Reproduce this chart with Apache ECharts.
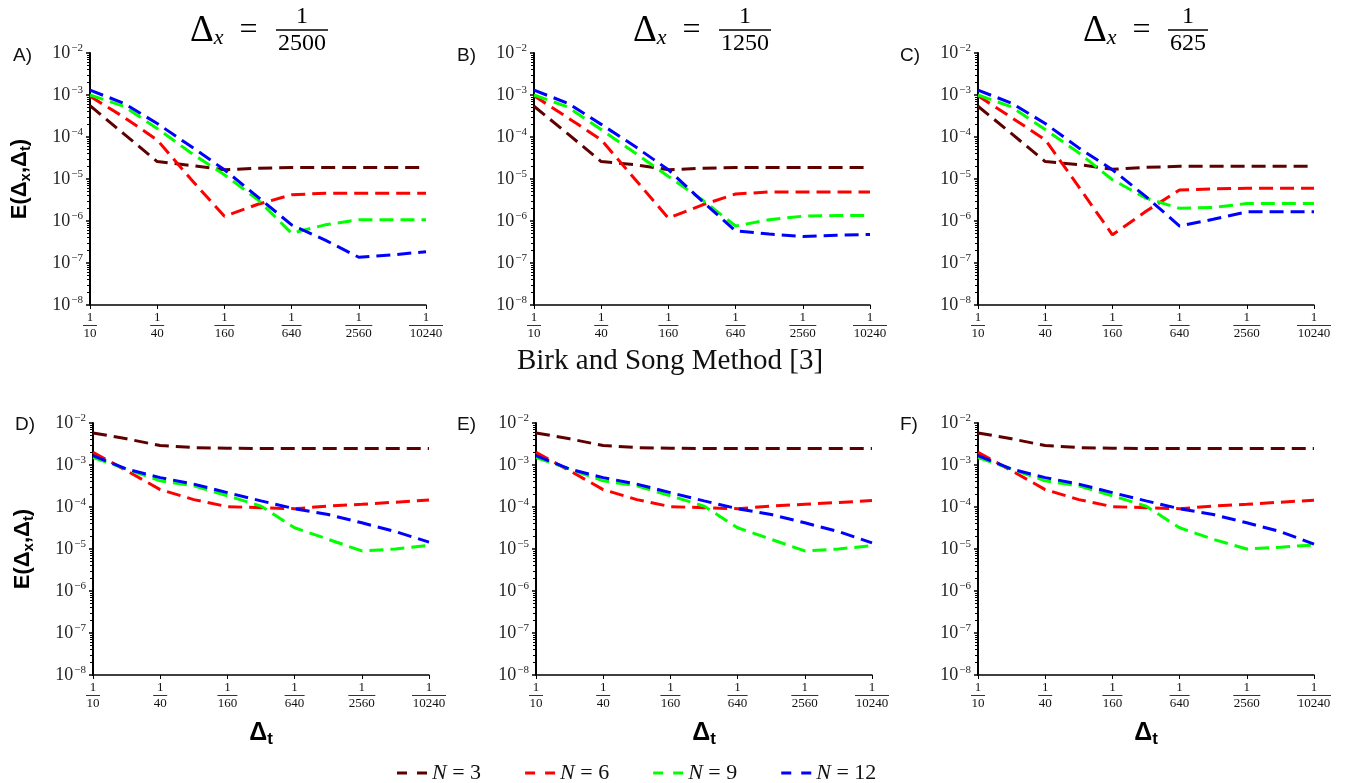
<!DOCTYPE html>
<html><head><meta charset="utf-8">
<script src="https://cdn.jsdelivr.net/npm/echarts@6/dist/echarts.min.js"></script>
<style>html,body{margin:0;padding:0;background:#fff}#c{width:1346px;height:783px}</style>
</head><body><div id="c"></div>
<script>
// x categories: time step Δt = 1/10 ... 1/10240 (halving)
const dtLabels = ['1/10','1/20','1/40','1/80','1/160','1/320','1/640','1/1280','1/2560','1/5120','1/10240'];
const seriesNames = ['N = 3','N = 6','N = 9','N = 12'];
const seriesColors = ['#5e0000','#ff0000','#00ff00','#0000ff'];
const panelLetters = ['A)','B)','C)','D)','E)','F)'];
const dxDenominators = ['2500','1250','625'];
const middleTitle = 'Birk and Song Method [3]';

// Panel A (Δx = 1/2500)
const A_N3  = [5.6e-4,1.2e-4,2.6e-5,2.1e-5,1.66e-5,1.8e-5,1.87e-5,1.87e-5,1.87e-5,1.87e-5,1.87e-5];
const A_N6  = [9.3e-4,3.0e-4,8.5e-5,1.0e-5,1.3e-6,2.5e-6,4.2e-6,4.6e-6,4.6e-6,4.6e-6,4.6e-6];
const A_N9  = [1.0e-3,5.4e-4,1.6e-4,4.2e-5,1.26e-5,3.2e-6,5.1e-7,8.1e-7,1.07e-6,1.07e-6,1.07e-6];
const A_N12 = [1.3e-3,6.4e-4,2.1e-4,6.0e-5,1.66e-5,3.7e-6,8.1e-7,3.5e-7,1.37e-7,1.56e-7,1.86e-7];
// Panel B (Δx = 1/1250)
const B_N3  = [5.4e-4,1.2e-4,2.6e-5,2.2e-5,1.66e-5,1.8e-5,1.87e-5,1.87e-5,1.87e-5,1.87e-5,1.87e-5];
const B_N6  = [9.6e-4,2.9e-4,8.6e-5,1.0e-5,1.17e-6,2.4e-6,4.4e-6,4.9e-6,4.9e-6,4.9e-6,4.9e-6];
const B_N9  = [1.0e-3,5.2e-4,1.5e-4,4.2e-5,1.15e-5,3.2e-6,7.6e-7,1.07e-6,1.3e-6,1.35e-6,1.35e-6];
const B_N12 = [1.3e-3,6.4e-4,2.0e-4,6.0e-5,1.66e-5,3.0e-6,5.8e-7,4.9e-7,4.3e-7,4.6e-7,4.8e-7];
// Panel C (Δx = 1/625)
const C_N3  = [5.4e-4,1.2e-4,2.6e-5,2.2e-5,1.7e-5,1.9e-5,2.0e-5,2.0e-5,2.0e-5,2.0e-5,2.0e-5];
const C_N6  = [9.6e-4,2.9e-4,8.6e-5,6.5e-6,4.7e-7,1.7e-6,5.5e-6,5.8e-6,6.0e-6,6.0e-6,6.0e-6];
const C_N9  = [1.0e-3,5.2e-4,1.5e-4,4.2e-5,9.6e-6,3.5e-6,2.0e-6,2.1e-6,2.6e-6,2.6e-6,2.6e-6];
const C_N12 = [1.3e-3,6.4e-4,2.1e-4,5.5e-5,1.66e-5,3.8e-6,7.6e-7,1.1e-6,1.65e-6,1.65e-6,1.65e-6];
// Panel D
const D_N3  = [5.8e-3,4.2e-3,2.9e-3,2.6e-3,2.5e-3,2.47e-3,2.47e-3,2.47e-3,2.47e-3,2.47e-3,2.47e-3];
const D_N6  = [2.0e-3,7.3e-4,2.6e-4,1.5e-4,1.02e-4,9.6e-5,9.1e-5,1.05e-4,1.16e-4,1.3e-4,1.47e-4];
const D_N9  = [1.5e-3,8.0e-4,4.2e-4,3.2e-4,1.85e-4,1.05e-4,3.2e-5,1.7e-5,9.0e-6,1.0e-5,1.23e-5];
const D_N12 = [1.67e-3,8.0e-4,5.0e-4,3.5e-4,2.2e-4,1.4e-4,9.1e-5,6.6e-5,4.2e-5,2.6e-5,1.46e-5];
// Panel E
const E_N3  = [5.8e-3,4.2e-3,2.9e-3,2.6e-3,2.5e-3,2.47e-3,2.47e-3,2.47e-3,2.47e-3,2.47e-3,2.47e-3];
const E_N6  = [2.0e-3,7.3e-4,2.6e-4,1.5e-4,1.02e-4,9.6e-5,9.1e-5,1.05e-4,1.16e-4,1.28e-4,1.42e-4];
const E_N9  = [1.5e-3,8.0e-4,4.2e-4,3.2e-4,1.85e-4,1.05e-4,3.2e-5,1.7e-5,9.0e-6,1.0e-5,1.2e-5];
const E_N12 = [1.67e-3,8.0e-4,5.0e-4,3.5e-4,2.2e-4,1.4e-4,9.1e-5,6.6e-5,4.2e-5,2.6e-5,1.4e-5];
// Panel F
const F_N3  = [5.8e-3,4.2e-3,2.9e-3,2.6e-3,2.5e-3,2.47e-3,2.47e-3,2.47e-3,2.47e-3,2.47e-3,2.47e-3];
const F_N6  = [2.0e-3,7.3e-4,2.6e-4,1.5e-4,1.02e-4,9.6e-5,9.1e-5,1.05e-4,1.16e-4,1.3e-4,1.45e-4];
const F_N9  = [1.5e-3,8.0e-4,4.2e-4,3.2e-4,1.85e-4,1.05e-4,3.2e-5,1.7e-5,1.0e-5,1.1e-5,1.25e-5];
const F_N12 = [1.67e-3,8.0e-4,5.0e-4,3.5e-4,2.2e-4,1.4e-4,9.1e-5,6.6e-5,4.2e-5,2.6e-5,1.3e-5];

const panelData = [
  [A_N3,A_N6,A_N9,A_N12],[B_N3,B_N6,B_N9,B_N12],[C_N3,C_N6,C_N9,C_N12],
  [D_N3,D_N6,D_N9,D_N12],[E_N3,E_N6,E_N9,E_N12],[F_N3,F_N6,F_N9,F_N12]
];

const SERIF = '"Liberation Serif", "DejaVu Serif", serif';
const SANS = '"Liberation Sans", Arial, sans-serif';
const gridLefts = [90,534,978,93,536,978];
const gridTops = [53,53,53,423,423,423];
const GW = 336, GH = 252;

const barW = {2:14,3:20,4:27,5:34};
const fracRich = {
  n:{fontFamily:SERIF,fontSize:13,color:'#111',align:'center',lineHeight:13},
  d:{fontFamily:SERIF,fontSize:13,color:'#111',align:'center',lineHeight:13}
};
Object.keys(barW).forEach(k=>{
  fracRich['b'+k] = {width:barW[k],height:1,backgroundColor:'#333',fontSize:1,lineHeight:3,align:'center'};
});

const grids=[], xAxes=[], yAxes=[], series=[];
for (let i=0;i<6;i++){
  grids.push({left:gridLefts[i],top:gridTops[i],width:GW,height:GH});
  const bottomRow = i>=3, leftCol = (i%3)===0;
  xAxes.push({
    type:'category', gridIndex:i, data:dtLabels, boundaryGap:false,
    axisLine:{onZero:false,lineStyle:{color:'#000',width:1.5}},
    axisTick:{show:true,interval:(idx)=>idx%2===0,length:4,lineStyle:{color:'#000',width:1}},
    axisLabel:{interval:0,margin:6,formatter:(v,idx)=>{
      if(idx%2!==0) return '';
      const d=v.split('/')[1];
      return '{n|1}\n{b'+d.length+'| }\n{d|'+d+'}';
    },rich:fracRich},
    splitLine:{show:false},
    name: bottomRow ? '{D|Δ}{t|t}' : '',
    nameLocation:'middle', nameGap:43,
    nameTextStyle:{rich:{
      D:{fontFamily:SANS,fontWeight:'bold',fontSize:25,color:'#000'},
      t:{fontFamily:SANS,fontWeight:'bold',fontSize:17,color:'#000',padding:[13,0,0,0]}
    }}
  });
  yAxes.push({
    type:'log', gridIndex:i, logBase:10, min:1e-8, max:1e-2, splitNumber:6,
    axisLine:{show:true,lineStyle:{color:'#000',width:2}},
    axisTick:{show:true,length:4,lineStyle:{color:'#000',width:1.5}},
    minorTick:{show:true,splitNumber:9,length:3,lineStyle:{color:'#000',width:1}},
    splitLine:{show:false}, minorSplitLine:{show:false},
    axisLabel:{margin:7,formatter:(v)=>'{b|10}{s|−'+Math.round(-Math.log10(v))+'}',
      rich:{b:{fontFamily:SERIF,fontSize:18,color:'#222'},s:{fontFamily:SERIF,fontSize:11,color:'#222',padding:[0,0,10,1]}}},
    name: leftCol ? '{m|E(Δ}{s|x}{m|,Δ}{s|t}{m|)}' : '',
    nameLocation:'middle', nameGap:57, nameRotate:90,
    nameTextStyle:{rich:{
      m:{fontFamily:SANS,fontWeight:'bold',fontSize:22,color:'#000'},
      s:{fontFamily:SANS,fontWeight:'bold',fontSize:15,color:'#000',padding:[11,0,0,0]}
    }}
  });
  for (let k=0;k<4;k++){
    series.push({
      type:'line', name:seriesNames[k], xAxisIndex:i, yAxisIndex:i,
      data:panelData[i][k], symbol:'none', showSymbol:false, clip:false,
      color:seriesColors[k],
      lineStyle:{color:seriesColors[k],width:3,type:[14,7]},
      itemStyle:{color:seriesColors[k]},
      z: 2+k
    });
  }
}

const graphics = [];
const letterPos = [[13,56],[457,56],[900,56],[15,425],[457,425],[900,425]];
panelLetters.forEach((t,i)=>{
  graphics.push({type:'text',x:letterPos[i][0],y:letterPos[i][1],style:{text:t,font:'19px '+SANS,fill:'#111',align:'left',verticalAlign:'middle'}});
});
const titleDeltaX = [190,633,1083];
const titleFracX = [302,745,1188];
dxDenominators.forEach((d,i)=>{
  graphics.push({type:'text',x:titleDeltaX[i],y:31,style:{
    text:'{D|Δ}{x|x}{e|  =}',align:'left',verticalAlign:'middle',
    rich:{D:{fontFamily:SERIF,fontSize:37,color:'#000'},
          x:{fontFamily:SERIF,fontStyle:'italic',fontSize:22,color:'#000',padding:[14,0,0,0]},
          e:{fontFamily:SERIF,fontSize:32,color:'#000'}}
  }});
  graphics.push({type:'text',x:titleFracX[i],y:31,style:{
    text:'{n|1}\n{b| }\n{d|'+d+'}',align:'center',verticalAlign:'middle',
    rich:{n:{fontFamily:SERIF,fontSize:24,color:'#000',align:'center',lineHeight:22},
          b:{width:d.length*12+4,height:1.3,backgroundColor:'#000',fontSize:1,lineHeight:4,align:'center'},
          d:{fontFamily:SERIF,fontSize:24,color:'#000',align:'center',lineHeight:24}}
  }});
});
graphics.push({type:'text',x:670,y:361,style:{text:middleTitle,font:'29px '+SERIF,fill:'#111',align:'center',verticalAlign:'middle'}});

const dashIcon = 'path://M0,0H10V3H0Z M20,0H30V3H20Z';
const chart = echarts.init(document.getElementById('c'));
chart.setOption({
  animation:false,
  backgroundColor:'#fff',
  grid:grids, xAxis:xAxes, yAxis:yAxes, series:series,
  legend:{
    data:seriesNames.map(n=>({name:n,icon:dashIcon})),
    left:392, top:757, itemGap:44, itemWidth:30, itemHeight:3,
    formatter:(name)=>'{i|N}{t| = '+name.split('= ')[1]+'}',
    textStyle:{rich:{
      i:{fontFamily:SERIF,fontStyle:'italic',fontSize:22,color:'#111'},
      t:{fontFamily:SERIF,fontSize:22,color:'#111'}
    }}
  },
  graphic:graphics
});
</script></body></html>
